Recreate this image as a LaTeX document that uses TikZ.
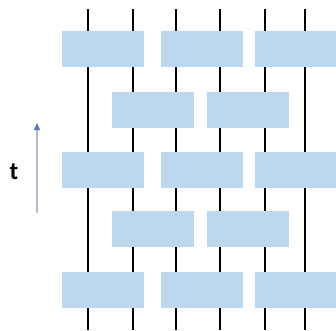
\documentclass[tikz,border=0pt]{standalone}
\usepackage{fontspec}
\setmainfont{Carlito}
\usetikzlibrary{arrows.meta}
\definecolor{gateblue}{RGB}{189,215,238}
\definecolor{arrowline}{RGB}{176,188,208}
\definecolor{arrowtip}{RGB}{84,120,184}
\tikzset{
  gate/.style={fill=gateblue, draw=none, inner sep=0pt, minimum height=36pt, minimum width=82pt},
  wire/.style={line width=2.8pt, black},
  timearrow/.style={line width=1.2pt, arrowline, -{Triangle[length=7pt,width=6pt,fill=arrowtip,color=arrowtip]}},
  tlabel/.style={font=\fontsize{25}{28}\selectfont\bfseries, inner sep=0pt}
}
\begin{document}
\begin{tikzpicture}[x=1pt,y=-1pt]
\useasboundingbox (0,0) rectangle (336,330);
\clip (0,0) rectangle (336,330);
% wire ends
\foreach \i/\x in {1/88,2/133,3/176,4/220,5/265,6/305}{
  \coordinate (top\i) at (\x,9);
  \coordinate (bot\i) at (\x,330);
}
\foreach \i in {1,...,6}{ \draw[wire] (top\i) -- (bot\i); }
% gate rows
\foreach \r/\y in {1/49,3/169.5,5/289.5}{
  \node[gate] (g\r a) at (103,\y) {};
  \node[gate] (g\r b) at (202,\y) {};
  \node[gate] (g\r c) at (296,\y) {};
}
\foreach \r/\y in {2/109.5,4/229}{
  \node[gate] (g\r a) at (152.5,\y) {};
  \node[gate] (g\r b) at (247.5,\y) {};
}
% time axis
\coordinate (tstart) at (37,213);
\coordinate (tend) at (37,123);
\draw[timearrow] (tstart) -- (tend);
\node[tlabel] (tl) at (14,171.5) {t};
\end{tikzpicture}
\end{document}
